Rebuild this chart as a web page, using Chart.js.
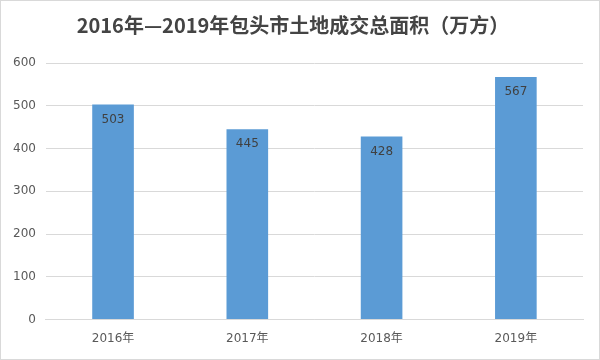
<!DOCTYPE html>
<html><head><meta charset="utf-8">
<script src="https://cdn.jsdelivr.net/npm/chart.js@4.4.1/dist/chart.umd.min.js"></script>
<style>
html,body{margin:0;padding:0;background:#fff;}
#wrap{position:relative;width:600px;height:360px;box-sizing:border-box;border:1px solid #d9d9d9;}
canvas{display:block;}
</style></head>
<body>
<div id="wrap"><canvas id="c"></canvas></div>
<script>
const titleText = '2016年—2019年包头市土地成交总面积（万方）';
const categories = ['2016年','2017年','2018年','2019年'];
const values = [503, 445, 428, 567];
const yTicks = [0,100,200,300,400,500,600];

const valueLabels = {
  id:'valueLabels',
  afterDatasetsDraw(chart){
    const ctx = chart.ctx;
    const meta = chart.getDatasetMeta(0);
    ctx.save();
    ctx.font = '12px "DejaVu Sans", sans-serif';
    ctx.fillStyle = '#404040';
    ctx.textAlign = 'center';
    ctx.textBaseline = 'middle';
    meta.data.forEach((bar,i)=>{
      ctx.fillText(String(values[i]), bar.x, bar.y + 15);
    });
    ctx.restore();
  }
};

new Chart(document.getElementById('c'), {
  type:'bar',
  data:{labels:categories, datasets:[{data:values, backgroundColor:'#5b9bd5', borderWidth:0, barPercentage:0.62, categoryPercentage:0.5}]},
  options:{
    responsive:true, maintainAspectRatio:false, animation:false,
    layout:{padding:{left:2,right:16,top:4,bottom:9}},
    plugins:{
      legend:{display:false}, tooltip:{enabled:false},
      title:{display:true, text:titleText, color:'#444444', font:{family:'"Noto Sans CJK SC", serif', size:20, weight:'bold'}, padding:{top:8,bottom:26}}
    },
    scales:{
      x:{grid:{display:false}, border:{color:'#d9d9d9'}, ticks:{color:'#595959', font:{family:'"DejaVu Sans", "Noto Sans CJK SC", sans-serif', size:12}, padding:4}},
      y:{min:0,max:600, afterBuildTicks(s){s.ticks = yTicks.map(v=>({value:v}));}, grid:{color:'#d9d9d9', drawTicks:false}, border:{display:false}, ticks:{color:'#595959', font:{family:'"DejaVu Sans", sans-serif', size:12}, padding:10}}
    }
  },
  plugins:[valueLabels]
});
</script>
</body></html>
